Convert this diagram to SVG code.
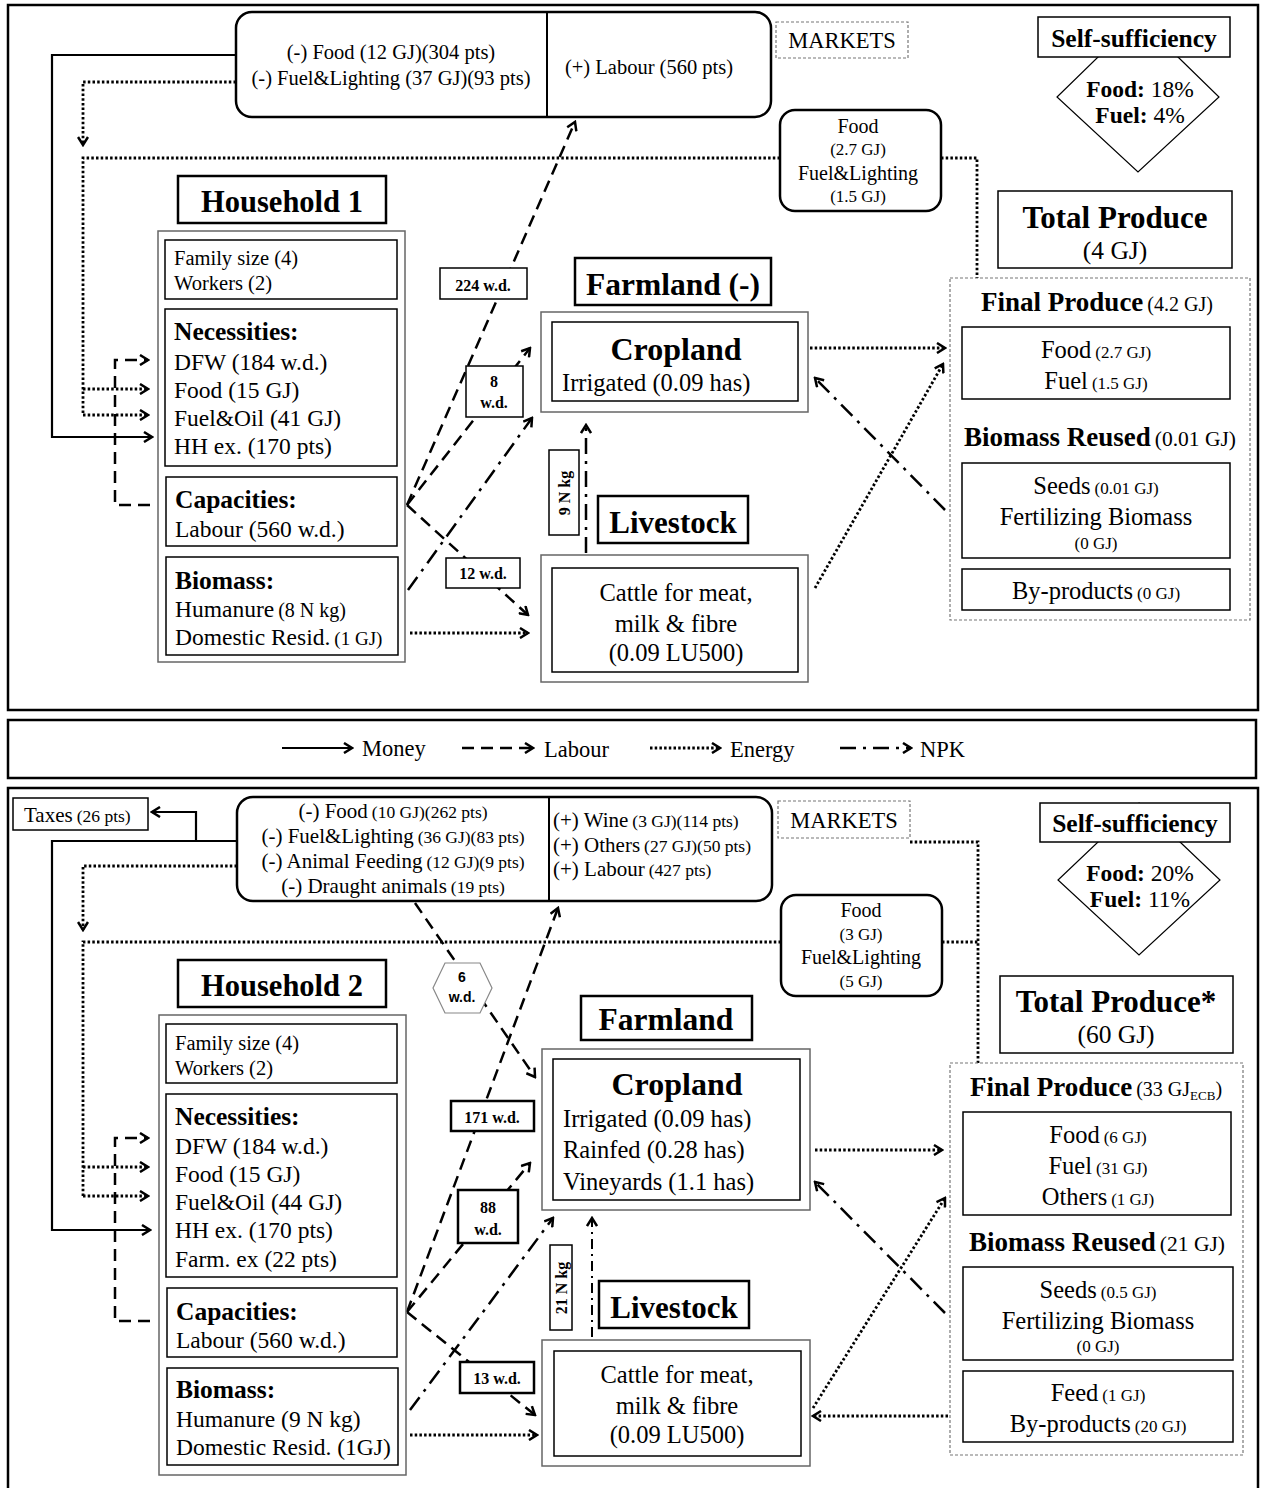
<svg xmlns="http://www.w3.org/2000/svg" width="1265" height="1488" viewBox="0 0 1265 1488">
<defs>
<style>
text{font-family:"Liberation Serif","Times New Roman",serif;fill:#000}
.b{font-weight:bold}
.m{text-anchor:middle}
.box{fill:#fff;stroke:#000;stroke-width:1.5}
.gbox{fill:#fff;stroke:#666;stroke-width:1.5}
.tbox{fill:#fff;stroke:#000;stroke-width:2.5}
.dbox{fill:#fff;stroke:#777;stroke-width:1.2;stroke-dasharray:3 2}
.panel{fill:none;stroke:#000;stroke-width:2.5}
.money{fill:none;stroke:#000;stroke-width:2.2}
.labour{fill:none;stroke:#000;stroke-width:2.5;stroke-dasharray:12 7}
.energy{fill:none;stroke:#000;stroke-width:2.8;stroke-dasharray:2.5 2.2}
.npk{fill:none;stroke:#000;stroke-width:2.5;stroke-dasharray:16 7 3 7}
.npkt{fill:none;stroke:#000;stroke-width:2;stroke-dasharray:10 5 2 5}
</style>
<marker id="ah" viewBox="0 0 12 12" refX="10" refY="6" markerWidth="12" markerHeight="12" markerUnits="userSpaceOnUse" orient="auto">
<path d="M2,1 L10,6 L2,11" fill="none" stroke="#000" stroke-width="2.5" stroke-dasharray="none"/>
</marker>
</defs>
<rect width="1265" height="1488" fill="#fff"/>

<!-- panels -->
<rect class="panel" x="8" y="5" width="1250" height="705"/>
<rect class="panel" x="8" y="720" width="1248" height="58"/>
<rect class="panel" x="8" y="788" width="1250" height="710"/>

<!-- legend -->
<g id="legend">
<line class="money" x1="282" y1="748" x2="352" y2="748" marker-end="url(#ah)"/>
<text x="362" y="756" font-size="22.5">Money</text>
<line class="labour" x1="462" y1="748" x2="533" y2="748" marker-end="url(#ah)"/>
<text x="544" y="757" font-size="22.5">Labour</text>
<line class="energy" x1="650" y1="748" x2="720" y2="748" marker-end="url(#ah)"/>
<text x="730" y="757" font-size="22.5">Energy</text>
<line class="npk" x1="840" y1="748" x2="911" y2="748" marker-end="url(#ah)"/>
<text x="920" y="757" font-size="22.5">NPK</text>
</g>

<!-- ================= PANEL 1 connectors ================= -->
<g id="connectors1">
<polyline class="money" points="236,55 52,55 52,437 152,437" marker-end="url(#ah)"/>
<polyline class="energy" points="236,82 83,82 83,145" marker-end="url(#ah)"/>
<polyline class="energy" points="780,158 83,158 83,415"/>
<line class="energy" x1="83" y1="389" x2="148" y2="389" marker-end="url(#ah)"/>
<line class="energy" x1="83" y1="415" x2="148" y2="415" marker-end="url(#ah)"/>
<polyline class="energy" points="941,158 977,158 977,278"/>
<polyline class="labour" points="150,505 115,505 115,360 148,360" marker-end="url(#ah)"/>
<line class="labour" x1="407" y1="505" x2="575" y2="122" marker-end="url(#ah)"/>
<line class="labour" x1="407" y1="505" x2="530" y2="348" marker-end="url(#ah)"/>
<line class="labour" x1="407" y1="505" x2="528" y2="615" marker-end="url(#ah)"/>
<line class="npk" x1="408" y1="590" x2="532" y2="418" marker-end="url(#ah)"/>
<line class="npk" x1="586" y1="553" x2="586" y2="425" marker-end="url(#ah)"/>
<line class="npk" x1="945" y1="510" x2="815" y2="378" marker-end="url(#ah)"/>
<line class="energy" x1="410" y1="633" x2="528" y2="633" marker-end="url(#ah)"/>
<line class="energy" x1="810" y1="348" x2="945" y2="348" marker-end="url(#ah)"/>
<line class="energy" x1="815" y1="588" x2="943" y2="364" marker-end="url(#ah)"/>
</g>

<!-- ================= PANEL 1 nodes ================= -->
<g id="markets1">
<rect class="tbox" x="236" y="12" width="535" height="105" rx="16"/>
<line x1="547" y1="12" x2="547" y2="117" stroke="#000" stroke-width="2"/>
<text class="m" x="391" y="59" font-size="20.5">(-) Food (12 GJ)(304 pts)</text>
<text class="m" x="391" y="85" font-size="20.5">(-) Fuel&amp;Lighting (37 GJ)(93 pts)</text>
<text class="m" x="649" y="74" font-size="20.5">(+) Labour (560 pts)</text>
</g>
<g id="marketslabel1">
<rect class="dbox" x="776" y="22" width="132" height="36"/>
<text class="m" x="842" y="48" font-size="22.5">MARKETS</text>
</g>
<g id="selfsuff1">
<polygon points="1138,18 1219,97 1138,172 1057,97" fill="#fff" stroke="#000" stroke-width="1.2"/>
<rect class="box" x="1038" y="17" width="192" height="40"/>
<text class="m b" x="1134" y="47" font-size="25.5">Self-sufficiency</text>
<text class="m" x="1140" y="97" font-size="23.5"><tspan class="b">Food:</tspan> 18%</text>
<text class="m" x="1140" y="123" font-size="23.5"><tspan class="b">Fuel:</tspan> 4%</text>
</g>
<g id="totalproduce1">
<rect class="box" x="998" y="191" width="234" height="77"/>
<text class="m b" x="1115" y="228" font-size="31">Total Produce</text>
<text class="m" x="1115" y="259" font-size="25.5">(4 GJ)</text>
</g>
<g id="foodfuel1">
<rect class="tbox" x="780" y="110" width="161" height="101" rx="15"/>
<text class="m" x="858" y="133" font-size="20">Food</text>
<text class="m" x="858" y="155" font-size="17">(2.7 GJ)</text>
<text class="m" x="858" y="180" font-size="20">Fuel&amp;Lighting</text>
<text class="m" x="858" y="202" font-size="17">(1.5 GJ)</text>
</g>
<g id="finalproduce1">
<rect class="dbox" x="950" y="278" width="300" height="342"/>
<text class="m" x="1097" y="311"><tspan class="b" font-size="27">Final Produce</tspan> <tspan font-size="20">(4.2 GJ)</tspan></text>
<rect class="box" x="962" y="327" width="268" height="72"/>
<text class="m" x="1096" y="358"><tspan font-size="24.5">Food</tspan> <tspan font-size="17">(2.7 GJ)</tspan></text>
<text class="m" x="1096" y="389"><tspan font-size="24.5">Fuel</tspan> <tspan font-size="17">(1.5 GJ)</tspan></text>
<text class="m" x="1100" y="446"><tspan class="b" font-size="27">Biomass Reused</tspan> <tspan font-size="21.5">(0.01 GJ)</tspan></text>
<rect class="box" x="962" y="463" width="268" height="95"/>
<text class="m" x="1096" y="494"><tspan font-size="24.5">Seeds</tspan> <tspan font-size="17">(0.01 GJ)</tspan></text>
<text class="m" x="1096" y="525" font-size="24.5">Fertilizing Biomass</text>
<text class="m" x="1096" y="549" font-size="17">(0 GJ)</text>
<rect class="box" x="962" y="569" width="268" height="41"/>
<text class="m" x="1096" y="599"><tspan font-size="24.5">By-products</tspan> <tspan font-size="17">(0 GJ)</tspan></text>
</g>
<g id="household1">
<rect class="tbox" x="178" y="176" width="208" height="47"/>
<text class="m b" x="282" y="212" font-size="30.5">Household 1</text>
<rect class="gbox" x="158" y="231" width="247" height="431"/>
<rect class="box" x="165" y="240" width="232" height="59"/>
<text x="174" y="265" font-size="20.5">Family size (4)</text>
<text x="174" y="290" font-size="20.5">Workers (2)</text>
<rect class="box" x="165" y="309" width="232" height="157"/>
<text class="b" x="174" y="340" font-size="25.5">Necessities:</text>
<text x="174" y="370" font-size="23.5">DFW (184 w.d.)</text>
<text x="174" y="398" font-size="23.5">Food (15 GJ)</text>
<text x="174" y="426" font-size="23.5">Fuel&amp;Oil (41 GJ)</text>
<text x="174" y="454" font-size="23.5">HH ex. (170 pts)</text>
<rect class="box" x="166" y="477" width="231" height="69"/>
<text class="b" x="175" y="508" font-size="25.5">Capacities:</text>
<text x="175" y="537" font-size="23.5">Labour (560 w.d.)</text>
<rect class="box" x="166" y="557" width="232" height="98"/>
<text class="b" x="175" y="589" font-size="25.5">Biomass:</text>
<text x="175" y="617"><tspan font-size="23.5">Humanure</tspan> <tspan font-size="20">(8 N kg)</tspan></text>
<text x="175" y="645"><tspan font-size="23.5">Domestic Resid.</tspan> <tspan font-size="19">(1 GJ)</tspan></text>
</g>
<g id="farmland1">
<rect class="tbox" x="575" y="258" width="196" height="47"/>
<text class="m b" x="673" y="295" font-size="31.5">Farmland (-)</text>
</g>
<g id="cropland1">
<rect class="gbox" x="541" y="312" width="267" height="100"/>
<rect class="box" x="552" y="322" width="246" height="79"/>
<text class="m b" x="676" y="360" font-size="32">Cropland</text>
<text x="562" y="391" font-size="24.5">Irrigated (0.09 has)</text>
</g>
<g id="livestock1">
<rect class="tbox" x="598" y="496" width="150" height="47"/>
<text class="m b" x="673" y="533" font-size="31">Livestock</text>
</g>
<g id="cattle1">
<rect class="gbox" x="541" y="555" width="267" height="127"/>
<rect class="box" x="552" y="568" width="246" height="104"/>
<text class="m" x="676" y="601" font-size="24.5">Cattle for meat,</text>
<text class="m" x="676" y="632" font-size="24.5">milk &amp; fibre</text>
<text class="m" x="676" y="661" font-size="24.5">(0.09 LU500)</text>
</g>
<g id="labels1">
<rect class="box" x="440" y="268" width="87" height="31"/>
<text class="m b" x="483" y="291" font-size="16">224 w.d.</text>
<rect class="box" x="466" y="366" width="57" height="51"/>
<text class="m b" x="494" y="387" font-size="16">8</text>
<text class="m b" x="494" y="408" font-size="16">w.d.</text>
<rect class="box" x="446" y="558" width="74" height="30"/>
<text class="m b" x="483" y="579" font-size="16">12 w.d.</text>
<rect class="box" x="549" y="450" width="30" height="85"/>
<text class="m b" x="0" y="0" font-size="16" transform="translate(570,493) rotate(-90)">9 N kg</text>
</g>

<!-- ================= PANEL 2 connectors ================= -->
<g id="connectors2">
<polyline class="money" points="237,841 52,841 52,1230 150,1230" marker-end="url(#ah)"/>
<polyline class="money" points="196,841 196,812 152,812" marker-end="url(#ah)"/>
<polyline class="energy" points="237,866 83,866 83,930" marker-end="url(#ah)"/>
<polyline class="energy" points="781,942 83,942 83,1196"/>
<line class="energy" x1="83" y1="1167" x2="148" y2="1167" marker-end="url(#ah)"/>
<line class="energy" x1="83" y1="1196" x2="148" y2="1196" marker-end="url(#ah)"/>
<polyline class="energy" points="910,842 978,842 978,1063"/>
<line class="energy" x1="942" y1="942" x2="978" y2="942"/>
<polyline class="labour" points="150,1321 115,1321 115,1138 148,1138" marker-end="url(#ah)"/>
<line class="labour" x1="407" y1="1312" x2="558" y2="908" marker-end="url(#ah)"/>
<line class="labour" x1="407" y1="1312" x2="530" y2="1163" marker-end="url(#ah)"/>
<line class="labour" x1="407" y1="1312" x2="535" y2="1415" marker-end="url(#ah)"/>
<line class="labour" x1="415" y1="903" x2="535" y2="1077" marker-end="url(#ah)"/>
<line class="npk" x1="410" y1="1410" x2="553" y2="1218" marker-end="url(#ah)"/>
<line class="npkt" x1="592" y1="1337" x2="592" y2="1218" marker-end="url(#ah)"/>
<line class="npk" x1="945" y1="1313" x2="815" y2="1182" marker-end="url(#ah)"/>
<line class="energy" x1="410" y1="1435" x2="537" y2="1435" marker-end="url(#ah)"/>
<line class="energy" x1="815" y1="1150" x2="942" y2="1150" marker-end="url(#ah)"/>
<line class="energy" x1="813" y1="1408" x2="945" y2="1198" marker-end="url(#ah)"/>
<line class="energy" x1="948" y1="1416" x2="813" y2="1416" marker-end="url(#ah)"/>
</g>

<!-- ================= PANEL 2 nodes ================= -->
<g id="taxes">
<rect class="box" x="13" y="798" width="135" height="32"/>
<text x="24" y="822"><tspan font-size="21">Taxes</tspan> <tspan font-size="17.5">(26 pts)</tspan></text>
</g>
<g id="markets2">
<rect class="tbox" x="237" y="797" width="535" height="104" rx="16"/>
<line x1="549" y1="797" x2="549" y2="901" stroke="#000" stroke-width="2"/>
<text class="m" x="393" y="818"><tspan font-size="21">(-) Food</tspan> <tspan font-size="17.5">(10 GJ)(262 pts)</tspan></text>
<text class="m" x="393" y="843"><tspan font-size="21">(-) Fuel&amp;Lighting</tspan> <tspan font-size="17.5">(36 GJ)(83 pts)</tspan></text>
<text class="m" x="393" y="868"><tspan font-size="21">(-) Animal Feeding</tspan> <tspan font-size="17.5">(12 GJ)(9 pts)</tspan></text>
<text class="m" x="393" y="893"><tspan font-size="21">(-) Draught animals</tspan> <tspan font-size="17.5">(19 pts)</tspan></text>
<text x="553" y="827"><tspan font-size="21">(+) Wine</tspan> <tspan font-size="17.5">(3 GJ)(114 pts)</tspan></text>
<text x="553" y="852"><tspan font-size="21">(+) Others</tspan> <tspan font-size="17.5">(27 GJ)(50 pts)</tspan></text>
<text x="553" y="876"><tspan font-size="21">(+) Labour</tspan> <tspan font-size="17.5">(427 pts)</tspan></text>
</g>
<g id="marketslabel2">
<rect class="dbox" x="778" y="801" width="132" height="37"/>
<text class="m" x="844" y="828" font-size="22.5">MARKETS</text>
</g>
<g id="selfsuff2">
<polygon points="1139,803 1220,880 1139,955 1058,880" fill="#fff" stroke="#000" stroke-width="1.2"/>
<rect class="box" x="1040" y="803" width="190" height="39"/>
<text class="m b" x="1135" y="832" font-size="25.5">Self-sufficiency</text>
<text class="m" x="1140" y="881" font-size="23.5"><tspan class="b">Food:</tspan> 20%</text>
<text class="m" x="1140" y="907" font-size="23.5"><tspan class="b">Fuel:</tspan> 11%</text>
</g>
<g id="totalproduce2">
<rect class="box" x="1000" y="976" width="233" height="77"/>
<text class="m b" x="1116" y="1012" font-size="31">Total Produce*</text>
<text class="m" x="1116" y="1043" font-size="25.5">(60 GJ)</text>
</g>
<g id="foodfuel2">
<rect class="tbox" x="781" y="895" width="161" height="101" rx="15"/>
<text class="m" x="861" y="917" font-size="20">Food</text>
<text class="m" x="861" y="940" font-size="17">(3 GJ)</text>
<text class="m" x="861" y="964" font-size="20">Fuel&amp;Lighting</text>
<text class="m" x="861" y="987" font-size="17">(5 GJ)</text>
</g>
<g id="finalproduce2">
<rect class="dbox" x="950" y="1063" width="293" height="392"/>
<text class="m" x="1096" y="1096"><tspan class="b" font-size="27">Final Produce</tspan> <tspan font-size="20">(33 GJ</tspan><tspan font-size="13" dy="4">ECB</tspan><tspan font-size="20" dy="-4">)</tspan></text>
<rect class="box" x="963" y="1112" width="268" height="103"/>
<text class="m" x="1098" y="1143"><tspan font-size="24.5">Food</tspan> <tspan font-size="17">(6 GJ)</tspan></text>
<text class="m" x="1098" y="1174"><tspan font-size="24.5">Fuel</tspan> <tspan font-size="17">(31 GJ)</tspan></text>
<text class="m" x="1098" y="1205"><tspan font-size="24.5">Others</tspan> <tspan font-size="17">(1 GJ)</tspan></text>
<text class="m" x="1097" y="1251"><tspan class="b" font-size="27">Biomass Reused</tspan> <tspan font-size="21.5">(21 GJ)</tspan></text>
<rect class="box" x="963" y="1267" width="270" height="93"/>
<text class="m" x="1098" y="1298"><tspan font-size="24.5">Seeds</tspan> <tspan font-size="17">(0.5 GJ)</tspan></text>
<text class="m" x="1098" y="1329" font-size="24.5">Fertilizing Biomass</text>
<text class="m" x="1098" y="1352" font-size="17">(0 GJ)</text>
<rect class="box" x="963" y="1371" width="270" height="71"/>
<text class="m" x="1098" y="1401"><tspan font-size="24.5">Feed</tspan> <tspan font-size="17">(1 GJ)</tspan></text>
<text class="m" x="1098" y="1432"><tspan font-size="24.5">By-products</tspan> <tspan font-size="17">(20 GJ)</tspan></text>
</g>
<g id="household2">
<rect class="tbox" x="178" y="960" width="208" height="47"/>
<text class="m b" x="282" y="996" font-size="30.5">Household 2</text>
<rect class="gbox" x="159" y="1015" width="247" height="460"/>
<rect class="box" x="166" y="1024" width="231" height="59"/>
<text x="175" y="1050" font-size="20.5">Family size (4)</text>
<text x="175" y="1075" font-size="20.5">Workers (2)</text>
<rect class="box" x="166" y="1094" width="231" height="183"/>
<text class="b" x="175" y="1125" font-size="25.5">Necessities:</text>
<text x="175" y="1154" font-size="23.5">DFW (184 w.d.)</text>
<text x="175" y="1182" font-size="23.5">Food (15 GJ)</text>
<text x="175" y="1210" font-size="23.5">Fuel&amp;Oil (44 GJ)</text>
<text x="175" y="1238" font-size="23.5">HH ex. (170 pts)</text>
<text x="175" y="1267" font-size="23.5">Farm. ex (22 pts)</text>
<rect class="box" x="167" y="1288" width="230" height="69"/>
<text class="b" x="176" y="1320" font-size="25.5">Capacities:</text>
<text x="176" y="1348" font-size="23.5">Labour (560 w.d.)</text>
<rect class="box" x="167" y="1368" width="231" height="97"/>
<text class="b" x="176" y="1398" font-size="25.5">Biomass:</text>
<text x="176" y="1427" font-size="23.5">Humanure (9 N kg)</text>
<text x="176" y="1455" font-size="23.5">Domestic Resid. (1GJ)</text>
</g>
<g id="farmland2">
<rect class="tbox" x="581" y="996" width="171" height="44"/>
<text class="m b" x="666" y="1030" font-size="31.5">Farmland</text>
</g>
<g id="cropland2">
<rect class="gbox" x="542" y="1049" width="268" height="161"/>
<rect class="box" x="553" y="1059" width="247" height="141"/>
<text class="m b" x="677" y="1095" font-size="32">Cropland</text>
<text x="563" y="1127" font-size="24.5">Irrigated (0.09 has)</text>
<text x="563" y="1158" font-size="24.5">Rainfed (0.28 has)</text>
<text x="563" y="1190" font-size="24.5">Vineyards (1.1 has)</text>
</g>
<g id="livestock2">
<rect class="tbox" x="599" y="1281" width="150" height="47"/>
<text class="m b" x="674" y="1318" font-size="31">Livestock</text>
</g>
<g id="cattle2">
<rect class="gbox" x="542" y="1340" width="268" height="126"/>
<rect class="box" x="554" y="1351" width="247" height="105"/>
<text class="m" x="677" y="1383" font-size="24.5">Cattle for meat,</text>
<text class="m" x="677" y="1414" font-size="24.5">milk &amp; fibre</text>
<text class="m" x="677" y="1443" font-size="24.5">(0.09 LU500)</text>
</g>
<g id="labels2">
<polygon points="445,963 480,963 492,988 480,1013 445,1013 433,988" fill="#fff" stroke="#888" stroke-width="1.2"/>
<text class="m b" x="462" y="982" font-size="14" style="font-family:'Liberation Sans',sans-serif">6</text>
<text class="m b" x="462" y="1002" font-size="14" style="font-family:'Liberation Sans',sans-serif">w.d.</text>
<rect class="tbox" x="451" y="1101" width="83" height="30"/>
<text class="m b" x="492" y="1123" font-size="16">171 w.d.</text>
<rect class="tbox" x="458" y="1190" width="60" height="53"/>
<text class="m b" x="488" y="1213" font-size="16">88</text>
<text class="m b" x="488" y="1235" font-size="16">w.d.</text>
<rect class="tbox" x="460" y="1362" width="74" height="31"/>
<text class="m b" x="497" y="1384" font-size="16">13 w.d.</text>
<rect class="box" x="550" y="1245" width="22" height="85"/>
<text class="m b" x="0" y="0" font-size="16" transform="translate(567,1288) rotate(-90)">21 N kg</text>
</g>
</svg>
